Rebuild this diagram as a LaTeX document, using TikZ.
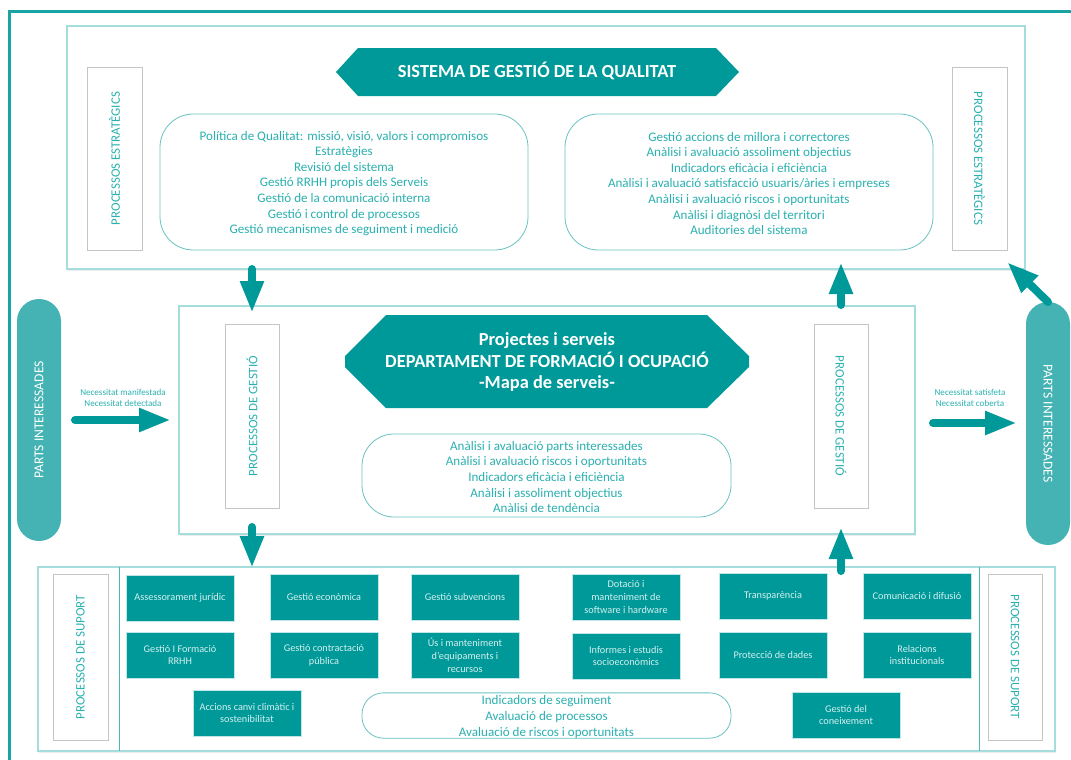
\documentclass[tikz,border=0pt]{standalone}
\usepackage{fontspec}
\setmainfont{Carlito}
\usetikzlibrary{arrows.meta,shadows}
\definecolor{tealD}{HTML}{009999}
\definecolor{tealM}{HTML}{45B3B3}
\definecolor{tealT}{HTML}{2BB0B0}
\definecolor{tealB}{HTML}{A5DCDC}
\definecolor{greyB}{HTML}{C4C4C4}
\definecolor{tealW}{HTML}{D5F0F0}
\tikzset{
  x=0.75pt,y=-0.75pt,
  frameStyle/.style={draw=tealD!90,line width=2.25pt},
  panel/.style={draw=tealB,line width=0.8pt,fill=white,drop shadow={shadow xshift=1pt,shadow yshift=-1.5pt,opacity=.15}},
  sidebox/.style={draw=greyB,line width=0.6pt,fill=white,text=tealT,font=\fontsize{9.7}{11}\selectfont},
  bubble/.style={draw=tealM!80,line width=0.6pt,fill=white,text=tealT,align=center,font=\fontsize{9.8}{11.7}\selectfont},
  tealbox/.style={fill=tealD,draw=tealB!70,line width=0.3pt,text=tealW,align=center,font=\fontsize{7.7}{9.6}\selectfont},
  pill/.style={fill=tealM,text=white,rounded corners=16.5pt,font=\fontsize{10.2}{11}\selectfont},
  title/.style={text=white,align=center,font=\bfseries},
  flow/.style={draw=tealD,line width=6pt,line cap=round,-{Triangle[width=16.5pt,length=24pt]}},
  small/.style={text=tealT,align=center,font=\fontsize{6.8}{8.2}\selectfont},
}
\newcommand{\dnstrut}{\rule{0pt}{9pt}}
% name, x1, y1, x2, y2, style, text
\newcommand{\bx}[7]{%
  \pgfmathsetmacro{\cxx}{(#2+#4)/2}\pgfmathsetmacro{\cyy}{(#3+#5)/2}%
  \pgfmathsetmacro{\ww}{(#4-#2)*0.75}\pgfmathsetmacro{\hh}{(#5-#3)*0.75}%
  \node[inner sep=0pt,outer sep=0pt,minimum width=\ww pt,minimum height=\hh pt,#6] (#1) at (\cxx,\cyy) {#7};}
\begin{document}
\begin{tikzpicture}
\useasboundingbox (0,0) rectangle (1071,760);
\draw[frameStyle] (1071,11) -- (9,11) -- (9,760);
% panels
\bx{top}{67}{26}{1025}{269}{panel}{}
\bx{mid}{179}{306}{915}{534}{panel}{}
\bx{bot}{38}{567}{1055}{751}{panel}{}
\draw[tealD!70,line width=0.6pt] (119,567) -- (119,751) (979,567) -- (979,751);
% hexagon titles
\fill[tealD] (336,72)--(358,48)--(716,48)--(739,72)--(716,96)--(358,96)--cycle;
\node[title,font=\fontsize{13.8}{16}\bfseries\selectfont] (t1) at (537,71) {SISTEMA DE GESTIÓ DE LA QUALITAT};
\fill[tealD] (345,356)--(345,367)--(386,408)--(707,408)--(749,367)--(749,356)--(707,315)--(386,315)--cycle;
\node[title,font=\fontsize{13.8}{16.2}\bfseries\selectfont] (t2) at (547,362) {Projectes i serveis\\DEPARTAMENT DE FORMACIÓ I OCUPACIÓ\\-Mapa de serveis-};
% side boxes
\bx{s1}{87}{67}{142}{250}{sidebox}{\rotatebox{90}{PROCESSOS ESTRATÈGICS}}
\bx{s2}{952}{67}{1007}{250}{sidebox}{\rotatebox{-90}{PROCESSOS ESTRATÈGICS}}
\bx{g1}{225}{324}{279}{508}{sidebox}{\rotatebox{90}{PROCESSOS DE GESTIÓ}}
\bx{g2}{814}{324}{868}{508}{sidebox}{\rotatebox{-90}{PROCESSOS DE GESTIÓ}}
\bx{p1}{53}{574}{108}{740}{sidebox}{\rotatebox{90}{PROCESSOS DE SUPORT}}
\bx{p2}{988}{574}{1042}{740}{sidebox}{\rotatebox{-90}{PROCESSOS DE SUPORT}}
% bubbles
\bx{b1}{160}{114}{528}{250}{bubble,rounded corners=25pt}{\dnstrut Política de Qualitat: missió, visió, valors i compromisos\\Estratègies\\Revisió del sistema\\Gestió RRHH propis dels Serveis\\Gestió de la comunicació interna\\Gestió i control de processos\\Gestió mecanismes de seguiment i medició}
\bx{b2}{565}{114}{933}{250}{bubble,rounded corners=25pt}{\dnstrut Gestió accions de millora i correctores\\Anàlisi i avaluació assoliment objectius\\Indicadors eficàcia i eficiència\\Anàlisi i avaluació satisfacció usuaris/àries i empreses\\Anàlisi i avaluació riscos i oportunitats\\Anàlisi i diagnòsi del territori\\Auditories del sistema}
\bx{b3}{362}{434}{731}{517}{bubble,rounded corners=24pt}{\dnstrut Anàlisi i avaluació parts interessades\\Anàlisi i avaluació riscos i oportunitats\\Indicadors eficàcia i eficiència\\Anàlisi i assoliment objectius\\Anàlisi de tendència}
\bx{b4}{362}{693}{731}{738}{bubble,rounded corners=16pt}{\dnstrut Indicadors de seguiment\\Avaluació de processos\\Avaluació de riscos i oportunitats}
% pills
\bx{pl}{17}{299}{61}{541}{pill}{\rotatebox{90}{PARTS INTERESSADES}}
\bx{pr}{1026}{302}{1070}{545}{pill}{\rotatebox{-90}{PARTS INTERESSADES}}
% teal boxes
\bx{a1}{126}{575}{234}{621}{tealbox}{Assessorament jurídic}
\bx{a2}{270}{574}{378}{620}{tealbox}{Gestió econòmica}
\bx{a3}{411}{574}{519}{620}{tealbox}{Gestió subvencions}
\bx{a4}{572}{574}{680}{620}{tealbox}{Dotació i\\manteniment de\\software i hardware}
\bx{a5}{719}{573}{827}{619}{tealbox}{Transparència}
\bx{a6}{863}{573}{971}{619}{tealbox}{Comunicació i difusió}
\bx{c1}{126}{632}{234}{678}{tealbox}{Gestió I Formació\\RRHH}
\bx{c2}{270}{632}{378}{678}{tealbox}{Gestió contractació\\pública}
\bx{c3}{411}{632}{519}{678}{tealbox}{Ús i manteniment\\d’equipaments i\\recursos}
\bx{c4}{572}{633}{680}{679}{tealbox}{Informes i estudis\\socioeconòmics}
\bx{c5}{719}{632}{827}{678}{tealbox}{Protecció de dades}
\bx{c6}{863}{632}{971}{678}{tealbox}{Relacions\\institucionals}
\bx{d1}{193}{690}{301}{736}{tealbox}{Accions canvi climàtic i\\sostenibilitat}
\bx{d2}{792}{692}{900}{738}{tealbox}{Gestió del\\coneixement}
% flow labels
\node[small] (ln) at (123,398) {Necessitat manifestada\\Necessitat detectada};
\node[small] (rn) at (970,398) {Necessitat satisfeta\\Necessitat coberta};
% flow anchors
\coordinate (f1s) at (252,269); \coordinate (f1e) at (252,313);
\coordinate (f2s) at (841,305); \coordinate (f2e) at (841,262);
\coordinate (f3s) at (1048,302); \coordinate (f3e) at (1007,262);
\coordinate (f4s) at (75,420); \coordinate (f4e) at (171,420);
\coordinate (f5s) at (933,423); \coordinate (f5e) at (1017,423);
\coordinate (f6s) at (252,527); \coordinate (f6e) at (252,568);
\coordinate (f7s) at (841,571); \coordinate (f7e) at (841,527);
\foreach \a/\b in {f1s/f1e,f2s/f2e,f3s/f3e,f4s/f4e,f5s/f5e,f6s/f6e,f7s/f7e}
  \draw[flow] (\a) -- (\b);
\end{tikzpicture}
\end{document}
